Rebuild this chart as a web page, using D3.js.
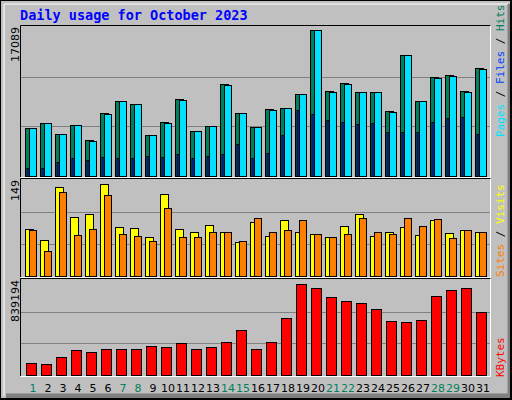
<!DOCTYPE html>
<html><head><meta charset="utf-8">
<script src="https://cdn.jsdelivr.net/npm/d3@7"></script>
<style>body{margin:0;background:#fff}svg{display:block}</style>
</head><body>
<div id="chart"></div>
<script>
// daily stats for October 2023
var days = d3.range(1, 32);
var weekends = [1, 7, 8, 14, 15, 21, 22, 28, 29];
var hits = [5469, 6038, 4785, 5810, 4101, 7178, 8659, 8203, 4671, 6152, 8887, 5127, 5697, 10596, 7178, 5583,
  7633, 7747, 9456, 16748, 9798, 10709, 9684, 9684, 7405, 13900, 8659, 11393, 11621, 9798, 12418];
var files = [5469, 6038, 4785, 5810, 3990, 7060, 8659, 8203, 4671, 6040, 8770, 5127, 5697, 10480, 7178, 5583,
  7520, 7747, 9456, 16748, 9684, 10596, 9684, 9684, 7290, 13900, 8545, 11280, 11507, 9684, 12300];
var pages = [911, 911, 1595, 2051, 1823, 2165, 2051, 2051, 2279, 2165, 2506, 2051, 2279, 2506, 3646, 2051,
  2620, 4671, 7519, 7064, 6380, 6152, 5924, 6038, 5013, 5013, 5013, 6152, 6608, 6722, 4785];
var visits = [73, 56, 138, 92, 96, 143, 76, 75, 61, 127, 73, 68, 79, 68, 53, 84,
  62, 87, 68, 65, 61, 78, 96, 62, 68, 76, 64, 87, 67, 71, 68];
var sites = [71, 39, 130, 64, 73, 126, 65, 62, 54, 106, 61, 61, 68, 68, 54, 90,
  68, 71, 87, 65, 61, 65, 90, 68, 65, 90, 78, 88, 59, 71, 68];
var kbytes = [106000, 97000, 159000, 221000, 203000, 230000, 230000, 230000, 256000, 247000, 283000, 230000, 247000, 292000, 398000, 230000,
  292000, 504000, 804000, 769000, 689000, 654000, 636000, 583000, 477000, 468000, 486000, 698000, 751000, 769000, 557000];
var maxHits = 17089, maxVisits = 149, maxKB = 839194;

var W = 512, H = 400;
var svg = d3.select("#chart").append("svg").attr("width", W).attr("height", H)
  .style("font-family", "'DejaVu Sans', sans-serif");

// background and bevel
svg.append("rect").attr("width", W).attr("height", H).attr("fill", "#000");
svg.append("rect").attr("x", 1).attr("y", 1).attr("width", W - 2).attr("height", H - 2).attr("fill", "#c0c0c0");
svg.append("path").attr("d", "M4,396V4H508").attr("fill", "none").attr("stroke", "#fff").attr("stroke-width", 1);
svg.append("path").attr("d", "M4,396H508V4").attr("fill", "none").attr("stroke", "#808080").attr("stroke-width", 5)
  .attr("transform", "translate(2,0)");
svg.append("rect").attr("x", 510).attr("y", 0).attr("width", 2).attr("height", H).attr("fill", "#000");
svg.append("rect").attr("x", 0).attr("y", 398).attr("width", W).attr("height", 2).attr("fill", "#000");

svg.append("text").attr("x", 20).attr("y", 20)
  .style("font-family", "'DejaVu Sans Mono', monospace").style("font-weight", "bold").style("font-size", "13.5px")
  .attr("fill", "#0000ff").text("Daily usage for October 2023");

var x = d3.scaleBand().domain(days).range([25, 490]).padding(0);

function panel(y0, y1, max) {
  var y = d3.scaleLinear().domain([0, max]).range([y1, y0]);
  var g = svg.append("g");
  g.append("path").attr("d", `M20.5,${y1 + 1}V${y0 - 1.5}H491`).attr("fill", "none").attr("stroke", "#000");
  g.append("path").attr("d", `M20.5,${y1 + 1.5}H490.5V${y0 - 1.5}`).attr("fill", "none").attr("stroke", "#fff");
  [1 / 3, 2 / 3].forEach(function (f) {
    g.append("line").attr("x1", 21).attr("x2", 490).attr("y1", Math.round(y(max * f)) + 0.5)
      .attr("y2", Math.round(y(max * f)) + 0.5).attr("stroke", "#808080").attr("stroke-width", 1.2);
  });
  g.append("text").attr("transform", `translate(19,${y0}) rotate(-90)`).attr("text-anchor", "end")
    .style("font-size", "11px").attr("fill", "#000").text(max);
  return { g: g, y: y, base: y1 };
}

function bars(p, data, dx, w, color) {
  p.g.selectAll(null).data(data).enter().append("rect")
    .attr("x", function (d, i) { return x(days[i]) + dx + 0.5; })
    .attr("y", function (d) { return Math.round(p.y(d)) + 0.5; })
    .attr("width", w)
    .attr("height", function (d) { return p.base - Math.round(p.y(d)); })
    .attr("fill", color).attr("stroke", "#000").attr("stroke-width", 1);
}

var p1 = panel(27, 176, maxHits);
bars(p1, hits, 0, 8, "#00805c");
bars(p1, files, 4, 7, "#00e0ff");
bars(p1, pages, 1.5, 2, "#0040ff");

var p2 = panel(180, 276, maxVisits);
bars(p2, visits, 0, 8, "#ffff00");
bars(p2, sites, 4, 7, "#ff8000");

var p3 = panel(280, 375, maxKB);
bars(p3, kbytes, 1, 10, "#ff0000");

// day labels
svg.selectAll(".day").data(days).enter().append("text")
  .attr("x", function (d) { return x(d) + 8; }).attr("y", 392)
  .attr("text-anchor", "middle").style("font-size", "11px")
  .attr("fill", function (d) { return weekends.indexOf(d) >= 0 ? "#00805c" : "#000"; })
  .text(function (d) { return d; });

// right side legends
function legend(yBottom, parts) {
  var t = svg.append("text").attr("transform", `translate(504,${yBottom}) rotate(-90)`)
    .style("font-family", "'DejaVu Sans Mono', monospace").style("font-size", "11px");
  parts.forEach(function (p) { t.append("tspan").attr("fill", p[1]).text(p[0]); });
}
legend(137, [["Pages", "#00e0ff"], [" / ", "#000"], ["Files", "#0040ff"], [" / ", "#000"], ["Hits", "#00805c"]]);
legend(277, [["Sites", "#ff8000"], [" / ", "#000"], ["Visits", "#ffff00"]]);
legend(377, [["KBytes", "#ff0000"]]);
</script>
</body></html>
